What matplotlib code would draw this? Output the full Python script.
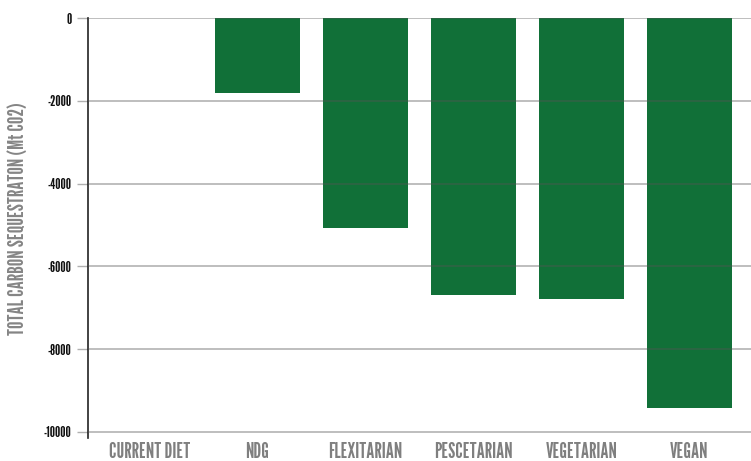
import matplotlib
matplotlib.use("Agg")
import matplotlib.pyplot as plt

categories = ["CURRENT DIET", "NDG", "FLEXITARIAN", "PESCETARIAN", "VEGETARIAN", "VEGAN"]
sequestration = [0, -1810, -5070, -6690, -6790, -9420]
yticks = [0, -2000, -4000, -6000, -8000, -10000]

family = ["League Gothic", "DejaVu Sans"]

fig = plt.figure(figsize=(7.51, 4.61), dpi=100)
ax = fig.add_axes([88 / 751, 1 - 438 / 461, 663 / 751, 420 / 461])

ax.bar(range(len(categories)), sequestration, width=0.79, color="#117038", zorder=1)

ax.set_xlim(-0.57, 5.57)
ax.set_ylim(-10150, 0)
ax.set_yticks(yticks)
ax.set_yticklabels([str(v) for v in yticks], family=family, fontsize=10.5, color="#111111")
ax.set_xticks(range(len(categories)))
ax.set_xticklabels(categories, family=family, fontsize=15, color="#7f7f7f")
ax.tick_params(axis="y", length=8, color="#b0b0b0", width=1, pad=4)
ax.tick_params(axis="x", length=0, pad=3)

# gridlines sit over the bars, darkening where they cross them
for v in yticks:
    ax.axhline(v, color="#555555", alpha=0.45, lw=1.2, zorder=3)

for side in ["top", "right", "bottom"]:
    ax.spines[side].set_visible(False)
ax.spines["left"].set_color("#222222")
ax.spines["left"].set_linewidth(1.2)

ax.set_ylabel("TOTAL CARBON SEQUESTRATON (Mt CO2)", family=family,
              fontsize=15, color="#858585")
ax.yaxis.set_label_coords(-60 / 663, (438 - 219) / 420)

fig.savefig("out.png", dpi=100)
